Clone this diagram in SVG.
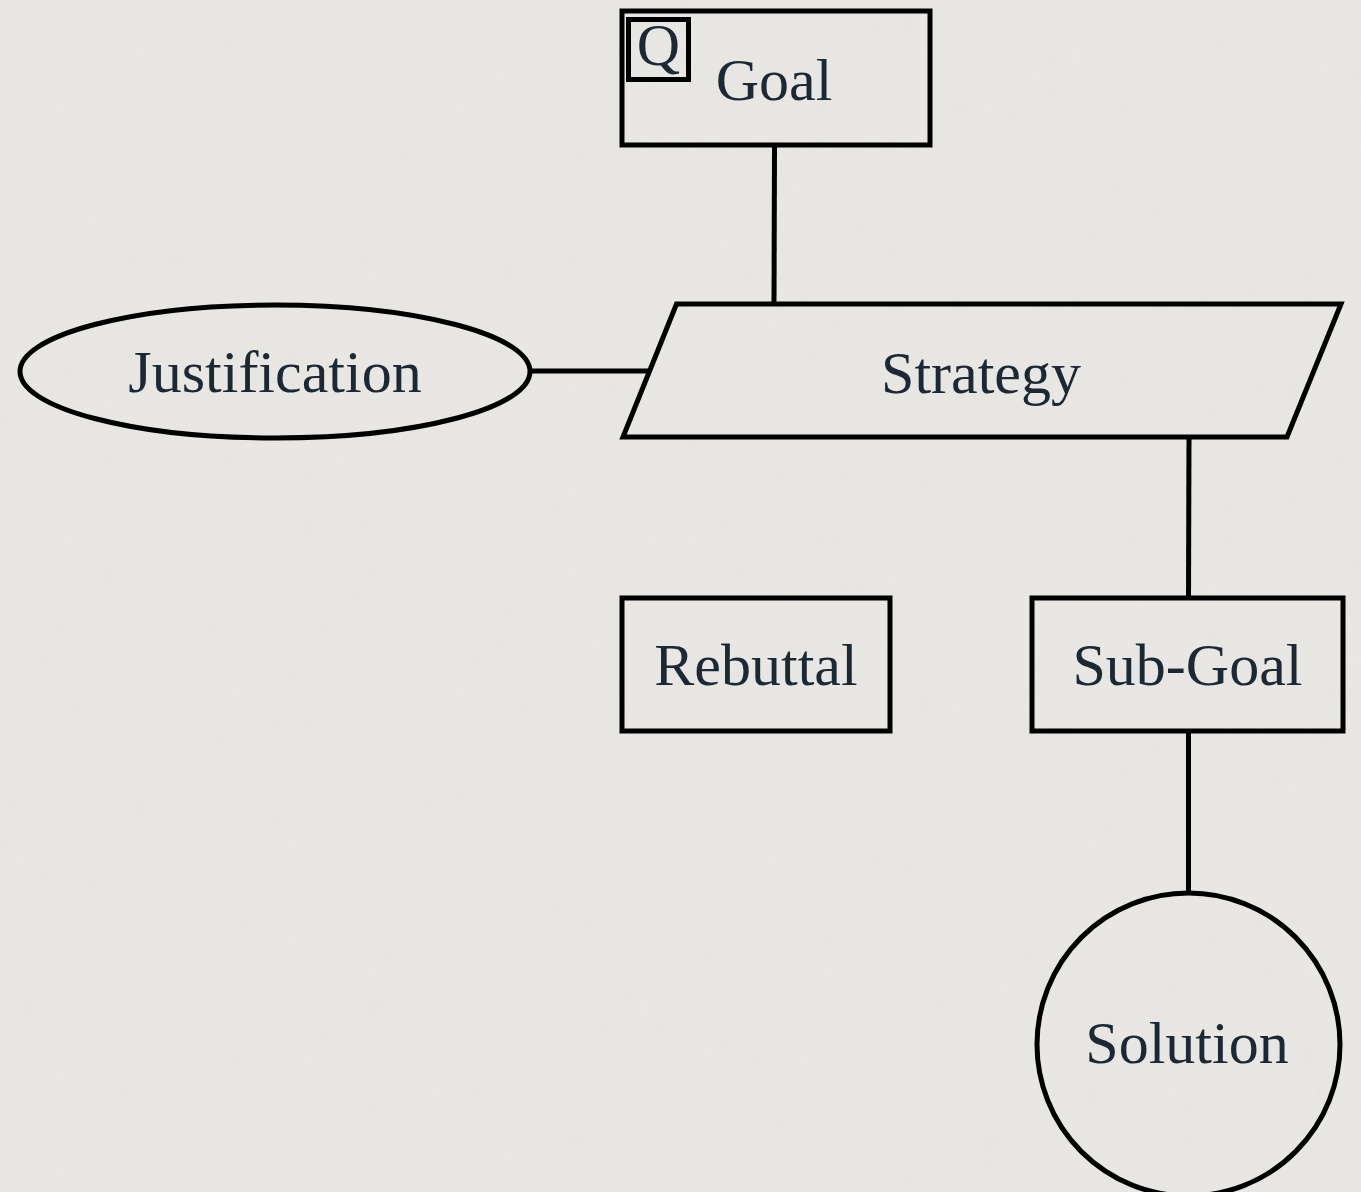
<svg xmlns="http://www.w3.org/2000/svg" width="1361" height="1192" viewBox="0 0 1361 1192">
  <defs>
    <filter id="paper" x="0" y="0" width="100%" height="100%">
      <feTurbulence type="fractalNoise" baseFrequency="0.06" numOctaves="3" seed="4" result="n"/>
      <feColorMatrix in="n" type="matrix" values="0 0 0 0 0.5  0 0 0 0 0.5  0 0 0 0 0.5  0 0 0 0.35 0"/>
    </filter>
  </defs>
  <style>
    .shape { fill: none; stroke: #000; stroke-width: 5; }
    .conn { fill: none; stroke: #000; stroke-width: 5; }
    .label { font-family: "Liberation Serif", "DejaVu Serif", serif; font-size: 60px; fill: #1c2833; text-anchor: middle; }
  </style>
  <rect x="0" y="0" width="1361" height="1192" fill="#eae8e5"/>
  <rect x="0" y="0" width="1361" height="1192" filter="url(#paper)" opacity="0.2"/>

  <g id="connectors">
    <line class="conn" x1="774.5" y1="147" x2="774" y2="304"/>
    <line class="conn" x1="531" y1="371" x2="648" y2="371"/>
    <line class="conn" x1="1189" y1="437" x2="1188.5" y2="598"/>
    <line class="conn" x1="1188.5" y1="731" x2="1188.5" y2="893"/>
  </g>

  <g id="goal">
    <rect class="shape" x="622" y="11" width="308" height="134"/>
    <rect class="shape" x="628.5" y="19.5" width="60" height="60" stroke-width="5.5"/>
    <text class="label" x="658.5" y="65" font-size="38">Q</text>
    <text class="label" x="774" y="100">Goal</text>
  </g>

  <g id="justification">
    <ellipse class="shape" cx="275" cy="371.5" rx="255" ry="66.5"/>
    <text class="label" x="275" y="392">Justification</text>
  </g>

  <g id="strategy">
    <polygon class="shape" points="676.5,304 1341,304 1287,437 623,437"/>
    <text class="label" x="981" y="393">Strategy</text>
  </g>

  <g id="rebuttal">
    <rect class="shape" x="622" y="598" width="268" height="133"/>
    <text class="label" x="756" y="685">Rebuttal</text>
  </g>

  <g id="subgoal">
    <rect class="shape" x="1032" y="598" width="311" height="133"/>
    <text class="label" x="1187.5" y="685">Sub-Goal</text>
  </g>

  <g id="solution">
    <circle class="shape" cx="1188.5" cy="1044.5" r="151.5"/>
    <text class="label" x="1187" y="1063">Solution</text>
  </g>
</svg>
